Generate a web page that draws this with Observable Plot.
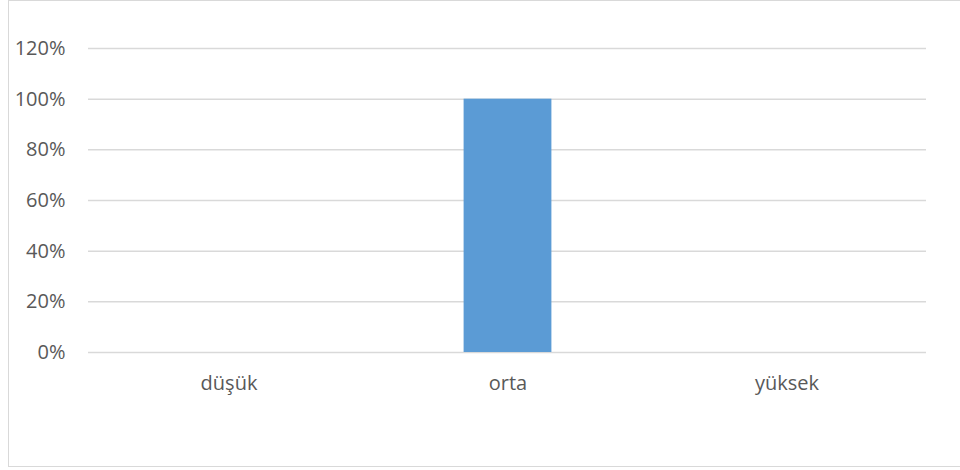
<!DOCTYPE html>
<html>
<head>
<meta charset="utf-8">
<script src="https://cdn.jsdelivr.net/npm/d3@7"></script>
<script src="https://cdn.jsdelivr.net/npm/@observablehq/plot@0.6"></script>
<style>
  html, body { margin: 0; padding: 0; background: #fff; }
  #wrap { position: relative; width: 960px; height: 470px; overflow: hidden; }
  #frame {
    position: absolute; left: 8px; top: 0; width: 960px; height: 467px;
    border: 1.5px solid #d9d9d9; box-sizing: border-box;
  }
  #chart { position: absolute; left: 0; top: 0; }
</style>
</head>
<body>
<div id="wrap">
  <div id="frame"></div>
  <div id="chart"></div>
</div>
<script>
// Share of responses per level
const levels = ["düşük", "orta", "yüksek"];
const shares = [0, 1, 0];
const yTicks = [0, 0.2, 0.4, 0.6, 0.8, 1.0, 1.2];

const data = levels.map((level, i) => ({level, share: shares[i]}));

const textColor = "#595959";
const gridColor = "#d9d9d9";

const chart = Plot.plot({
  width: 960,
  height: 470,
  marginLeft: 88,
  marginRight: 34,
  marginTop: 48,
  marginBottom: 118,
  style: {fontFamily: "'Open Sans', sans-serif", fontSize: "20px", color: textColor, background: "transparent"},
  x: {domain: levels, padding: 0, label: null},
  y: {domain: [0, 1.2], label: null},
  marks: [
    Plot.gridY(yTicks, {stroke: gridColor, strokeOpacity: 1, strokeWidth: 1.5}),
    Plot.barY(data, {x: "level", y: "share", fill: "#5b9bd5", insetLeft: 95.6, insetRight: 95.6}),
    Plot.axisY(yTicks, {tickSize: 0, tickPadding: 23, tickFormat: d => Math.round(d * 100) + "%", fill: textColor, label: null}),
    Plot.axisX({tickSize: 0, tickPadding: 23, fill: textColor, label: null})
  ]
});

document.getElementById("chart").appendChild(chart);
</script>
</body>
</html>
